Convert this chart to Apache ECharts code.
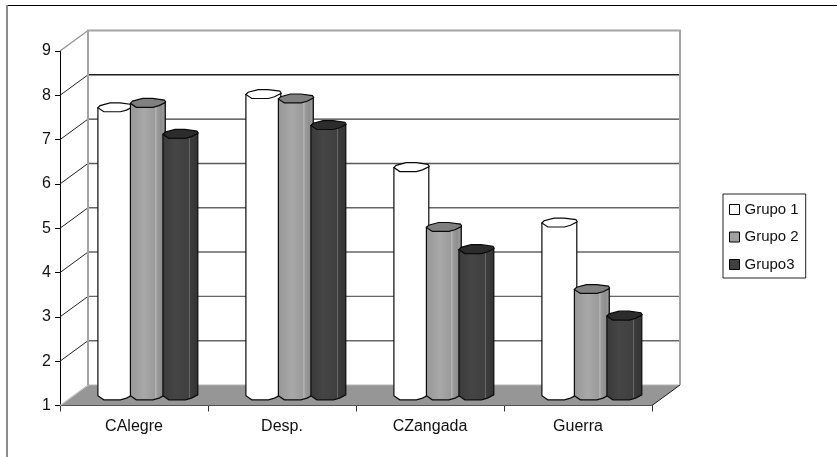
<!DOCTYPE html>
<html>
<head>
<meta charset="utf-8">
<style>html,body{margin:0;padding:0;background:#fff}#c{width:837px;height:457px}</style>
<script src="https://cdn.jsdelivr.net/npm/echarts@6/dist/echarts.min.js"></script>
</head>
<body>
<div id="c"></div>
<script>
const categories = ['CAlegre', 'Desp.', 'CZangada', 'Guerra'];
const grupo1 = [7.5, 7.8, 6.15, 4.9];
const grupo2 = [7.6, 7.7, 4.8, 3.4];
const grupo3 = [6.9, 7.1, 4.3, 2.8];
const yTicks = [2, 3, 4, 5, 6, 7, 8, 9];

// Appearance of the pseudo-3D box and the cylinders
const DX = 28, DY = 20.5;
const BAR_DX = 14, BAR_DY = 10;
const PITCH = 32.5;
const CAP = [[-17.6,0.3],[-15.4,-1.9],[-5.4,-4.6],[4.6,-4.6],[16.4,-3],[17.6,-1.2],[17.3,-0.6],[11,2.6],[4.9,4.3],[-11.7,4.3]];
const INK = '#0a0a0a';
const GRID_INK = {8:'#1c1c1c', 7:'#3a3a3a', 6:'#5a5a5a', 5:'#666666', 4:'#666666', 3:'#666666', 2:'#666666'};

function vGrad(stops){
  return {type:'linear',x:0,y:0,x2:1,y2:0,colorStops:stops.map(s=>({offset:s[0],color:s[1]}))};
}
const looks = [
  {body:'#ffffff', cap:'#ffffff', legend:'#ffffff'},
  {body:vGrad([[0,'#949494'],[0.12,'#9c9c9c'],[0.4,'#a8a8a8'],[0.66,'#9c9c9c'],[0.7,'#9a9a9a'],[0.72,'#c0c0c0'],[0.75,'#9c9c9c'],[0.9,'#8c8c8c'],[0.92,'#b0b0b0'],[0.94,'#8a8a8a'],[1,'#848484']]), cap:'#808080', legend:'#a0a0a0'},
  {body:vGrad([[0,'#3a3a3a'],[0.35,'#454545'],[0.7,'#404040'],[0.74,'#404040'],[0.755,'#6a6a6a'],[0.77,'#3c3c3c'],[1,'#333333']]), cap:'#2c2c2c', legend:'#404040'}
];

function barRenderer(g){
  return function(params, api){
    const i = api.value(0), v = api.value(1);
    const top = api.coord([i, v]), base = api.coord([i, 1]);
    const cx = top[0] + BAR_DX + (g - 1) * PITCH;
    const yt = top[1] - BAR_DY, yb = base[1] - BAR_DY;
    const capPts = CAP.map(p => [cx + p[0], yt + p[1]]);
    // silhouette: left edge, front of the base, right edge
    const front = CAP.slice(6).map(p => [cx + p[0], yb + p[1]]).concat([[cx + CAP[0][0], yb + CAP[0][1]]]);
    const body = [[cx + CAP[0][0], yt + CAP[0][1]]].concat(
      front.slice().reverse(),
      [[cx + CAP[6][0], yt + CAP[6][1]]]
    );
    return {type:'group', children:[
      {type:'polygon', shape:{points:body}, style:{fill:looks[g].body, stroke:INK, lineWidth:1.2}},
      {type:'polygon', shape:{points:capPts}, style:{fill:looks[g].cap, stroke:INK, lineWidth:1.2}}
    ]};
  };
}

function boxRenderer(params, api){
  const cs = params.coordSys;
  const x0 = cs.x, x1 = cs.x + cs.width;
  const y1 = api.coord([0, 1])[1], y9 = api.coord([0, 9])[1];
  const edge = '#a4a4a4';
  const kids = [
    {type:'polygon', shape:{points:[[x0,y1],[x0+DX,y1-DY],[x1+DX,y1-DY],[x1,y1]]}, style:{fill:'#969696', stroke:null}},
    {type:'polyline', shape:{points:[[x0+DX,y1-DY],[x1+DX,y1-DY]]}, style:{stroke:'#b4b4b4', lineWidth:1, fill:null}},
    {type:'polyline', shape:{points:[[x0,y1],[x0+DX,y1-DY]]}, style:{stroke:'#c8c8c8', lineWidth:1.2, fill:null}},
    {type:'polyline', shape:{points:[[x1,y1],[x1+DX,y1-DY]]}, style:{stroke:'#1a1a1a', lineWidth:1, fill:null}}
  ];
  yTicks.forEach(t => {
    const y = api.coord([0, t])[1];
    if (t === 9) {
      kids.push({type:'polyline', shape:{points:[[x0,y],[x0+DX,y-DY]]}, style:{stroke:'#909090', lineWidth:1.2, fill:null}});
    } else {
      kids.push({type:'polyline', shape:{points:[[x0,y],[x0+DX,y-DY]]}, style:{stroke:'#222', lineWidth:1, fill:null}});
      kids.push({type:'polyline', shape:{points:[[x0+DX,y-DY],[x1+DX,y-DY]]}, style:{stroke:GRID_INK[t], lineWidth:1.4, fill:null}});
    }
  });
  kids.push({type:'polyline', shape:{points:[[x0+DX,y1-DY],[x0+DX,y9-DY],[x1+DX,y9-DY],[x1+DX,y1-DY]]}, style:{stroke:edge, lineWidth:2, fill:null}});
  return {type:'group', children:kids};
}

const names = ['Grupo 1', 'Grupo 2', 'Grupo3'];
const values = [grupo1, grupo2, grupo3];
const chart = echarts.init(document.getElementById('c'), null, {renderer:'canvas'});
const font = '"Liberation Sans", Arial, sans-serif';

chart.setOption({
  animation:false,
  backgroundColor:'#fff',
  graphic:[
    {type:'line', shape:{x1:7,y1:5.5,x2:837,y2:5.5}, style:{stroke:'#000',lineWidth:1}, silent:true},
    {type:'line', shape:{x1:7,y1:5,x2:7,y2:457}, style:{stroke:'#8c8c8c',lineWidth:2}, silent:true}
  ],
  grid:{left:60, top:51, width:592, height:354.5, containLabel:false},
  legend:{
    left:723, top:194, orient:'vertical', data:names, icon:'rect',
    itemWidth:10, itemHeight:10, itemGap:12.5, padding:[8,7,6,6],
    borderColor:'#222', borderWidth:1, backgroundColor:'#fff', selectedMode:false,
    textStyle:{fontFamily:font, fontSize:15, color:'#111', padding:[0,0,0,0]},
    itemStyle:{borderColor:'#000', borderWidth:1}
  },
  xAxis:{
    type:'category', data:categories, boundaryGap:true,
    axisLine:{lineStyle:{color:'#111',width:1}},
    axisTick:{show:true,length:6,alignWithLabel:false,lineStyle:{color:'#333'}},
    axisLabel:{fontFamily:font,fontSize:16,color:'#111',margin:13,interval:0},
    splitLine:{show:false}
  },
  yAxis:{
    type:'value', min:1, max:9, interval:1,
    axisLine:{show:true,lineStyle:{color:'#000',width:1}},
    axisTick:{show:true,length:5,lineStyle:{color:'#000'}},
    axisLabel:{fontFamily:font,fontSize:16,color:'#111',margin:9},
    splitLine:{show:false}
  },
  series:[
    {name:'box', type:'custom', silent:true, z:1, clip:false, data:[[0,1]], encode:{x:0,y:1}, renderItem:boxRenderer}
  ].concat(names.map((n,g)=>({
    name:n, type:'custom', z:2+g, clip:false, silent:true,
    encode:{x:0,y:1},
    itemStyle:{color:looks[g].legend},
    data:values[g].map((v,i)=>[i,v]),
    renderItem:barRenderer(g)
  })))
});
</script>
</body>
</html>
